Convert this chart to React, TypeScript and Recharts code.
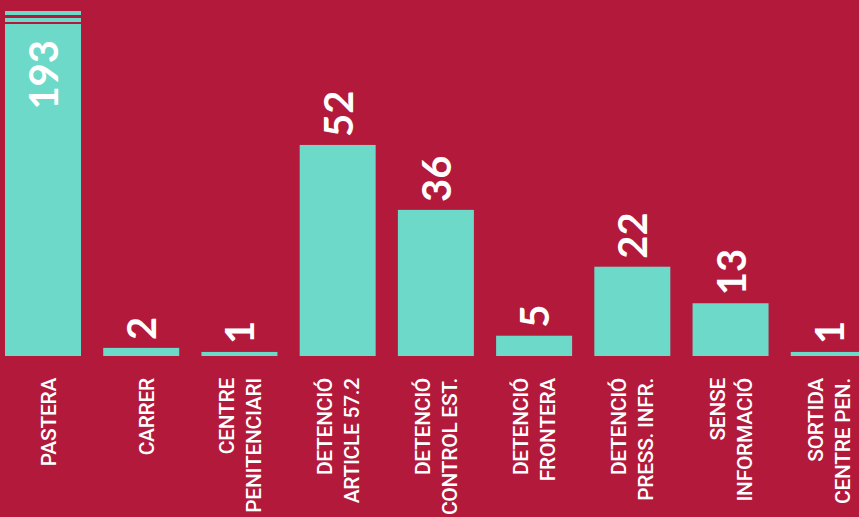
import React from "react";
import { BarChart, Bar, XAxis, YAxis, LabelList } from "recharts";

const categories = [
  "PASTERA",
  "CARRER",
  "CENTRE|PENITENCIARI",
  "DETENCIÓ|ARTICLE 57.2",
  "DETENCIÓ|CONTROL EST.",
  "DETENCIÓ|FRONTERA",
  "DETENCIÓ|PRESS. INFR.",
  "SENSE|INFORMACIÓ",
  "SORTIDA|CENTRE PEN.",
];
const values = [193, 2, 1, 52, 36, 5, 22, 13, 1];
const yDomain = [0, 85];

const data = categories.map((c, i) => ({ name: c, value: values[i] }));

const BG = "#B3193B";
const BAR = "#6DD9C9";
const TOP = 11;
const BOTTOM = 356;
const CHART_W = 884;
const CHART_H = 517;

const BarShape = (props: any) => {
  const { x, y, width, height } = props;
  if (y < TOP) {
    return (
      <g>
        <rect x={x} y={TOP} width={width} height={4} fill={BAR} />
        <rect x={x} y={TOP + 7} width={width} height={4} fill={BAR} />
        <rect x={x} y={TOP + 13} width={width} height={BOTTOM - TOP - 13} fill={BAR} />
      </g>
    );
  }
  return <rect x={x} y={y} width={width} height={height} fill={BAR} />;
};

const ValueLabel = (props: any) => {
  const { x, y, width, value } = props;
  const cx = x + width / 2;
  if (y < TOP) {
    const cy = TOP + 29;
    return (
      <text
        x={cx}
        y={cy}
        transform={`rotate(-90, ${cx}, ${cy})`}
        textAnchor="end"
        dominantBaseline="central"
        fill="#FFFFFF"
        fontFamily="Lato, sans-serif"
        fontWeight={700}
        fontSize={40}
      >
        {value}
      </text>
    );
  }
  const cy = y - 8;
  return (
    <text
      x={cx}
      y={cy}
      transform={`rotate(-90, ${cx}, ${cy})`}
      textAnchor="start"
      dominantBaseline="central"
      fill="#FFFFFF"
      fontFamily="Lato, sans-serif"
      fontWeight={700}
      fontSize={40}
    >
      {value}
    </text>
  );
};

const CategoryTick = (props: any) => {
  const { x, payload } = props;
  const lines: string[] = String(payload.value).split("|");
  const ty = BOTTOM + 22;
  return (
    <g>
      {lines.map((line, i) => {
        const cx = lines.length === 1 ? x + 6 : x - 13 + i * 27;
        return (
          <text
            key={i}
            x={cx}
            y={ty}
            transform={`rotate(-90, ${cx}, ${ty})`}
            textAnchor="end"
            dominantBaseline="central"
            fill="#FFFFFF"
            fontFamily="Roboto, sans-serif"
            fontWeight={500}
            fontSize={21}
            letterSpacing={-0.3}
          >
            {line}
          </text>
        );
      })}
    </g>
  );
};

export default function App() {
  return (
    <div
      style={{
        position: "fixed",
        left: 0,
        top: 0,
        width: 859,
        height: 517,
        overflow: "hidden",
        background: BG,
      }}
    >
      <div style={{ position: "absolute", left: -6, top: 0 }}>
        <BarChart
          width={CHART_W}
          height={CHART_H}
          data={data}
          margin={{ top: TOP, right: 0, left: 0, bottom: 0 }}
          barSize={76}
        >
          <XAxis
            dataKey="name"
            axisLine={false}
            tickLine={false}
            height={CHART_H - BOTTOM}
            interval={0}
            tick={<CategoryTick />}
          />
          <YAxis hide domain={yDomain} allowDataOverflow />
          <Bar dataKey="value" fill={BAR} isAnimationActive={false} shape={<BarShape />}>
            <LabelList dataKey="value" content={<ValueLabel />} />
          </Bar>
        </BarChart>
      </div>
    </div>
  );
}
